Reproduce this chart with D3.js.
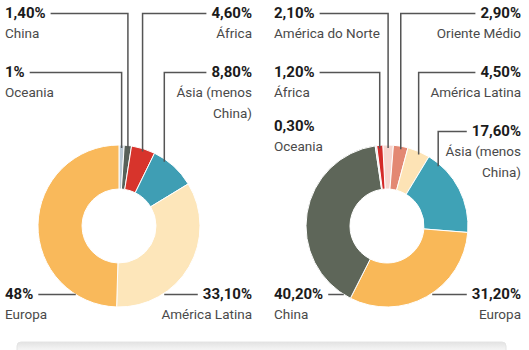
<!DOCTYPE html>
<html><head><meta charset="utf-8">
<script src="https://cdn.jsdelivr.net/npm/d3@7"></script>
<style>
html,body{margin:0;padding:0;background:#fff;}
svg{display:block;font-family:Roboto,"Noto Sans",sans-serif;}
</style></head>
<body>
<svg id="c" width="529" height="350"></svg>
<script>
// ---- data ----
const leftCategories = ["Oceania","China","África","Ásia (menos China)","América Latina","Europa"];
const leftValues     = [1.0, 1.4, 4.6, 8.8, 33.1, 48.0];
const leftValueLabels= ["1%","1,40%","4,60%","8,80%","33,10%","48%"];
const leftColors     = ["#B9C8D4","#58615A","#D7342C","#3F9EB4","#FDE6BA","#F9B95B"];

const rightCategories = ["América do Norte","Oriente Médio","América Latina","Ásia (menos China)","Europa","China","Oceania","África"];
const rightValues     = [2.1, 2.9, 4.5, 17.6, 31.2, 40.2, 0.3, 1.2];
const rightValueLabels= ["2,10%","2,90%","4,50%","17,60%","31,20%","40,20%","0,30%","1,20%"];
const rightColors     = ["#F7D5CE","#E38873","#FDE3B5","#3FA2B6","#F9B858","#5E6659","#D3D8DB","#D42A2A"];

// label layout (side, row) per slice
const leftLayout  = [["L",2],["L",1],["R",1],["R",2],["R","b"],["L","b"]];
const rightLayout = [["L",1],["R",1],["R",2],["R",3],["R","b"],["L","b"],["L",3,"noline"],["L",2]];
const rowBase = {1:18, 2:77, 3:131, b:299};

const svg = d3.select("#c");
const R = 81, r0 = 37, cy = 226;

function labelLines(name){
  if (name === "Ásia (menos China)") return ["Ásia (menos","China)"];
  return [name];
}

function donut(cx, cats, vals, vlabels, cols, layout, startDeg, textL, textR, row3R){
  const g = svg.append("g");
  const pie = d3.pie().sort(null).value(d=>d)
    .startAngle(startDeg*Math.PI/180).endAngle((startDeg+360)*Math.PI/180);
  const arcs = pie(vals);
  const arc = d3.arc().innerRadius(r0).outerRadius(R);
  g.append("g").attr("transform",`translate(${cx},${cy})`)
    .selectAll("path").data(arcs).join("path")
    .attr("d",arc).attr("fill",(d,i)=>cols[i])
    .attr("stroke","#fff").attr("stroke-width",1);

  arcs.forEach((a,i)=>{
    const [side,row,flag] = layout[i];
    let base = rowBase[row];
    if (row===3 && side==="R") base = row3R;
    const anchor = side==="L" ? "start" : "end";
    const tx = side==="L" ? textL : textR;
    const vt = g.append("text").attr("x",tx).attr("y",base)
      .attr("text-anchor",anchor).attr("font-weight",700).attr("font-size",15)
      .attr("fill","#1b1b1b").text(vlabels[i]);
    labelLines(cats[i]).forEach((ln,k)=>{
      g.append("text").attr("x",tx).attr("y",base+20+k*21)
        .attr("text-anchor",anchor).attr("font-size",13.5)
        .attr("fill","#4a4a4a").text(ln);
    });
    if (flag==="noline") return;
    const w = vt.node().getComputedTextLength();
    const ly = base-4.5;
    let pts;
    if (row==="b"){
      const dy = ly-cy;
      const dx = Math.sqrt(R*R-dy*dy);
      if (side==="L") pts=[[tx+w+5,ly],[cx-dx,ly]];
      else pts=[[cx+dx+2,ly],[tx-w-5,ly]];
    } else {
      const span = a.endAngle-a.startAngle;
      const ang = a.startAngle + Math.min(span/2, 8*Math.PI/180);
      const lx = cx + R*Math.sin(ang);
      const ey = cy - Math.sqrt(Math.max(0,R*R-(lx-cx)*(lx-cx)))+3;
      if (side==="L") pts=[[tx+w+5,ly],[lx,ly],[lx,ey]];
      else pts=[[tx-w-5,ly],[lx,ly],[lx,ey]];
    }
    g.append("path").attr("d",d3.line()(pts)).attr("fill","none")
      .attr("stroke","#555").attr("stroke-width",1.5);
  });
}

donut(119, leftCategories, leftValues, leftValueLabels, leftColors, leftLayout, 0, 5, 252, 131);
donut(387, rightCategories, rightValues, rightValueLabels, rightColors, rightLayout, -3, 274, 521, 136);

// bottom box
const defs = svg.append("defs");
const lg = defs.append("linearGradient").attr("id","sh").attr("x1",0).attr("y1",0).attr("x2",0).attr("y2",1);
lg.append("stop").attr("offset","0%").attr("stop-color","#e2e2e2");
lg.append("stop").attr("offset","35%").attr("stop-color","#f3f3f3");
lg.append("stop").attr("offset","100%").attr("stop-color","#f7f7f7");
svg.append("rect").attr("x",17).attr("y",342).attr("width",489).attr("height",20).attr("rx",4)
  .attr("fill","url(#sh)").attr("stroke","#e4e4e4");
</script>
</body></html>
